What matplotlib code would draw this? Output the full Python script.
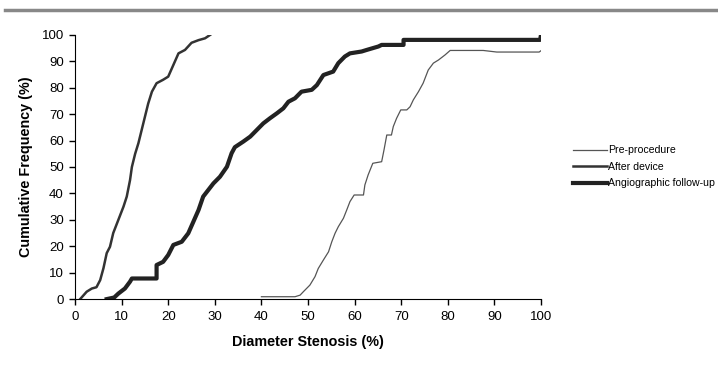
import matplotlib
matplotlib.use("Agg")
import matplotlib.pyplot as plt
from matplotlib.lines import Line2D

plt.rcParams['font.family'] = ['Liberation Sans', 'DejaVu Sans']

# cumulative frequency curves (x = diameter stenosis %, y = cumulative %)
pre_x = [40, 47.2, 48.3, 49, 50.4, 51.5, 52.2, 53.3, 54.4, 55.1, 55.8, 56.5, 57.6, 58.3, 59, 59.9,
         61.9, 62.2, 62.9, 63.9, 65.8, 66.3, 66.9, 67.9, 68.3, 69, 69.9, 71.2, 71.9, 72.6, 73.7,
         74.7, 75.8, 76.9, 78, 79.4, 80.5, 87.6, 90.5, 99.6, 100]
pre_y = [0.9, 0.9, 1.5, 2.8, 5.3, 8.5, 11.6, 14.8, 17.9, 21.7, 24.9, 27.4, 30.6, 33.7, 36.9, 39.4,
         39.4, 43.2, 47, 51.4, 52, 56.4, 62.1, 62.1, 65.3, 68.4, 71.6, 71.6, 72.8, 75.4, 78.5,
         81.7, 86.7, 89.3, 90.5, 92.4, 94.1, 94.1, 93.5, 93.5, 94]

dev_x = [1.1, 2.5, 3.6, 4.6, 5.4, 6.1, 6.8, 7.5, 8.2, 9.3, 10.4, 11.1, 11.8, 12.2, 12.9, 13.6,
         14.3, 15, 15.7, 16.5, 17.5, 18.9, 20, 21.1, 22.2, 23.6, 25, 26.5, 27.9, 29]
dev_y = [0, 2.8, 4, 4.5, 7.2, 11.7, 17.4, 19.8, 25, 30, 35, 38.8, 45, 50, 55, 59,
         64, 69, 74, 78.5, 81.7, 83, 84.2, 88.6, 93, 94.3, 97, 98, 98.7, 100]

fu_x = [6.8, 8.4, 9.3, 10.7, 11.8, 12.2, 17.5, 17.5, 18.9, 20, 21.1, 22.9, 24.3, 25.4, 26.5, 27.5,
        28.6, 29.7, 31.1, 32.6, 33.6, 34.3, 36.1, 37.6, 39, 40.4, 41.8, 43.3, 44.7, 45.8, 47.2,
        48.6, 50.8, 51.9, 53.3, 55.4, 56.5, 57.9, 59, 61.5, 62.6, 65.1, 65.8, 70.5, 70.5, 99.8, 100]
fu_y = [0, 0.6, 2.1, 4, 6.6, 7.8, 7.8, 12.9, 14.1, 16.7, 20.5, 21.7, 24.9, 29.3, 33.7, 38.8,
        41.3, 43.8, 46.3, 50.1, 55.2, 57.5, 59.6, 61.5, 64, 66.5, 68.4, 70.3, 72.2, 74.7, 76,
        78.5, 79.2, 81, 84.8, 86.1, 89.3, 91.8, 93, 93.7, 94.3, 95.6, 96.2, 96.2, 98.1, 98.1, 100]

labels = ['Pre-procedure', 'After device', 'Angiographic follow-up']
x_ticks = list(range(0, 101, 10))
y_ticks = list(range(0, 101, 10))

fig = plt.figure(figsize=(7.18, 3.67), dpi=100)
ax = fig.add_axes([0.1045, 0.185, 0.649, 0.72])

ax.plot(pre_x, pre_y, color='#555555', lw=0.9, label=labels[0])
ax.plot(dev_x, dev_y, color='#333333', lw=1.8, label=labels[1])
ax.plot(fu_x, fu_y, color='#222222', lw=3.0, label=labels[2])

ax.set_xlim(0, 100)
ax.set_ylim(0, 100)
ax.set_xticks(x_ticks)
ax.set_yticks(y_ticks)
ax.spines['top'].set_visible(False)
ax.spines['right'].set_visible(False)
ax.tick_params(direction='out', length=4, width=1, labelsize=9.5)
ax.tick_params(axis='x', pad=4.5)
ax.tick_params(axis='y', pad=4)
ax.set_xlabel('Diameter Stenosis (%)', fontsize=10.4, fontweight='bold', labelpad=9)
ax.set_ylabel('Cumulative Frequency (%)', fontsize=10.4, fontweight='bold', labelpad=6)

fig.legend(loc='upper left', bbox_to_anchor=(0.798, 0.604), frameon=False, fontsize=7.6,
           handlelength=3.2, handletextpad=0.1, labelspacing=0.62, borderpad=0, borderaxespad=0)

# grey rule across the top of the page
fig.add_artist(Line2D([0.007, 1], [0.973, 0.973], transform=fig.transFigure,
                      color='#888888', lw=2.5))

fig.savefig('out.png', dpi=100)
